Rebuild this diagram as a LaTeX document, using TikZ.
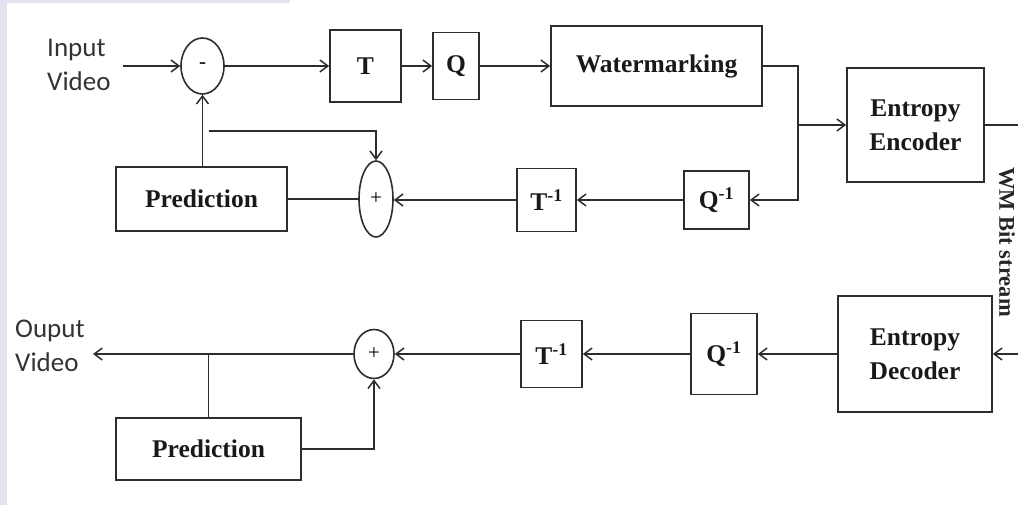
\documentclass[tikz,border=0pt]{standalone}
\usepackage{fontspec}
\setmainfont{Liberation Serif}
\newfontfamily\calibfont{Carlito}
\usetikzlibrary{arrows.meta,shapes.geometric}
\definecolor{lav}{RGB}{226,226,241}
\definecolor{ink}{RGB}{45,45,45}
\tikzset{
  blk/.style={draw=ink,line width=1.7pt,inner sep=0pt,font=\fontsize{25.5}{34}\selectfont\bfseries,align=center,text=black!90},
  sumnode/.style={draw=ink,line width=1.6pt,ellipse,inner sep=0pt,font=\fontsize{21}{24}\selectfont},
  conn/.style={draw=ink,line width=1.6pt},
  arr/.style={conn,-{Straight Barb[length=8pt,width=12pt,line width=1.5pt]}},
  lbl/.style={font=\calibfont\fontsize{27}{34}\selectfont,text=black!80,inner sep=0pt,align=left}
}
\begin{document}
\begin{tikzpicture}[x=1pt,y=-1pt]
\useasboundingbox (0,0) rectangle (1018,505);
\fill[lav] (0,0) rectangle (7,505);
\fill[lav] (0,0) rectangle (290,3);

% top row
\node[lbl,anchor=north west] (inlbl) at (47,39) {Input\\Video};
\coordinate (inp) at (123,66);
\node[sumnode,minimum width=43pt,minimum height=56pt] (minus) at (202.5,66) {-};
\node[blk,minimum width=71pt,minimum height=72pt] (T) at (365.5,66) {T};
\node[blk,minimum width=46pt,minimum height=67pt] (Q) at (456,66) {Q};
\node[blk,minimum width=211pt,minimum height=80pt] (WM) at (656.5,66) {Watermarking};
\node[blk,minimum width=137pt,minimum height=114pt] (EE) at (915.5,125) {Entropy\\Encoder};
\coordinate (j1) at (798,125);
\coordinate (eeout) at (1018,125);
\node[blk,minimum width=65pt,minimum height=58pt] (Qi1) at (716.5,200) {Q\textsuperscript{-1}};
\node[blk,minimum width=59pt,minimum height=63pt] (Ti1) at (546.5,200) {T\textsuperscript{-1}};
\node[sumnode,minimum width=34pt,minimum height=76pt] (plus1) at (376,199) {+};
\node[blk,minimum width=171pt,minimum height=64pt] (P1) at (201.5,199) {Prediction};
\coordinate (fb) at (209,131);

% bit stream label
\node[font=\fontsize{22.5}{26}\selectfont\bfseries,rotate=-90,inner sep=0pt,text=black!85] (bs) at (1007,242) {WM Bit stream};

% bottom row
\coordinate (in2) at (1018,354);
\node[blk,minimum width=154pt,minimum height=116pt] (ED) at (915,354) {Entropy\\Decoder};
\node[blk,minimum width=66pt,minimum height=81pt] (Qi2) at (724,354) {Q\textsuperscript{-1}};
\node[blk,minimum width=61pt,minimum height=67pt] (Ti2) at (551.5,354) {T\textsuperscript{-1}};
\node[sumnode,minimum width=40pt,minimum height=49pt] (plus2) at (374,354) {+};
\node[blk,minimum width=185pt,minimum height=62pt] (P2) at (208.5,449) {Prediction};
\coordinate (out) at (93,354);
\node[lbl,anchor=north west] (outlbl) at (15,320) {Ouput\\Video};

% connectors top
\draw[arr] (inp) -- (minus.west);
\draw[arr] (minus.east) -- (T.west);
\draw[arr] (T.east) -- (Q.west);
\draw[arr] (Q.east) -- (WM.west);
\draw[conn] (WM.east) -| (j1);
\draw[arr] (j1) |- (Qi1.east);
\draw[arr] (j1) -- (EE.west);
\draw[conn] (EE.east) -- (eeout);
\draw[arr] (Qi1.west) -- (Ti1.east);
\draw[arr] (Ti1.west) -- (Ti1.west -| plus1.east);
\draw[conn] (P1.east) -- (plus1.west);
\draw[arr] (minus.south |- P1.north) -- (minus.south);
\draw[arr] (fb) -| (plus1.north);

% connectors bottom
\draw[arr] (in2) -- (ED.east);
\draw[arr] (ED.west) -- (Qi2.east);
\draw[arr] (Qi2.west) -- (Ti2.east);
\draw[arr] (Ti2.west) -- (plus2.east);
\draw[arr] (plus2.west) -- (out);
\draw[conn] (P2.north |- plus2.west) -- (P2.north);
\draw[arr] (P2.east) -| (plus2.south);
\end{tikzpicture}
\end{document}
